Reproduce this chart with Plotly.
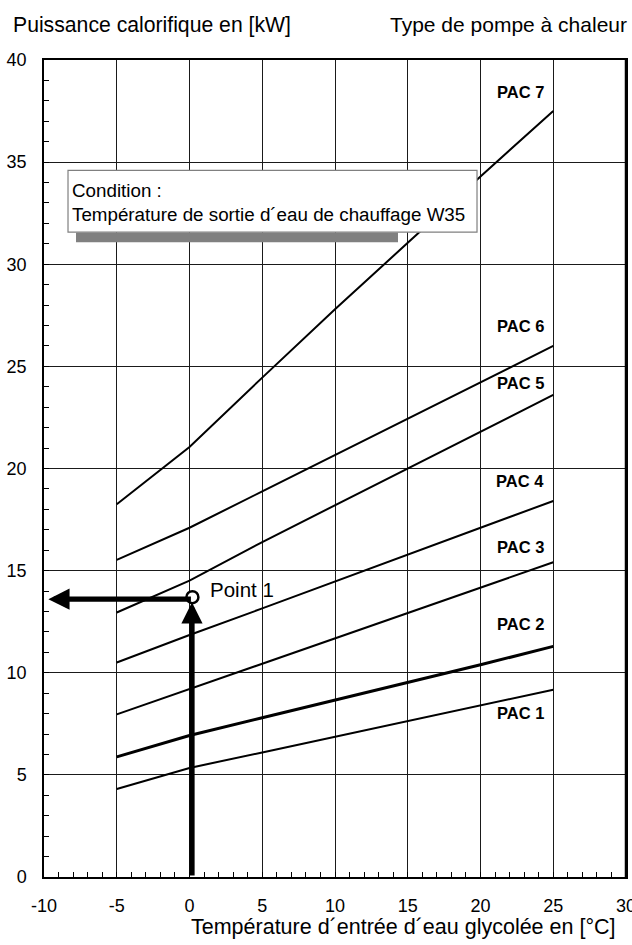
import plotly.graph_objects as go

# Glycol water inlet temperature [°C] sampling points
temperature = [-5, 0, 5, 10, 15, 20, 25]

# Heating capacity [kW] per heat pump type
pac_1 = [4.31, 5.34, 6.10, 6.86, 7.63, 8.39, 9.17]
pac_2 = [5.88, 6.93, 7.80, 8.66, 9.52, 10.39, 11.29]
pac_3 = [7.96, 9.20, 10.43, 11.67, 12.90, 14.14, 15.41]
pac_4 = [10.50, 11.85, 13.15, 14.48, 15.78, 17.10, 18.41]
pac_5 = [12.95, 14.51, 16.40, 18.20, 20.00, 21.80, 23.60]
pac_6 = [15.53, 17.10, 18.88, 20.66, 22.44, 24.22, 26.00]
pac_7 = [18.25, 21.05, 24.45, 27.80, 31.05, 34.30, 37.50]

series_names = ["PAC 1", "PAC 2", "PAC 3", "PAC 4", "PAC 5", "PAC 6", "PAC 7"]
series_values = [pac_1, pac_2, pac_3, pac_4, pac_5, pac_6, pac_7]
series_widths = [2, 3, 2, 2, 2, 2, 2]

# Label anchor heights for each curve name
label_x = 24.48
label_y = [8.03, 12.4, 16.18, 19.39, 24.18, 26.97, 38.43]

# Reading example
point1_x = 0.2
point1_y = 13.7
arrow_y = 13.6
arrow_left_x = -9.7

x_ticks = [-10, -5, 0, 5, 10, 15, 20, 25, 30]
x_tick_text = ["-10", "-5", "0", "5", "10", "15", "20", "25", "30"]
y_ticks = [0, 5, 10, 15, 20, 25, 30, 35, 40]
y_tick_text = ["0", "5", "10", "15", "20", "25", "30", "35", "40"]

FONT = "Liberation Sans, Arial, sans-serif"

fig = go.Figure()

for name, vals, w in zip(series_names, series_values, series_widths):
    fig.add_trace(go.Scatter(
        x=temperature, y=vals, mode="lines", name=name,
        line=dict(color="black", width=w), hoverinfo="skip", showlegend=False,
    ))

# Operating point marker
fig.add_trace(go.Scatter(
    x=[point1_x], y=[point1_y], mode="markers",
    marker=dict(size=12, color="white", line=dict(color="black", width=2.5)),
    showlegend=False, hoverinfo="skip",
))

annotations = []
for name, ly in zip(series_names, label_y):
    annotations.append(dict(
        x=label_x, y=ly, xref="x", yref="y", text=f"<b>{name}</b>",
        showarrow=False, xanchor="right", yanchor="middle",
        font=dict(family=FONT, size=16.5, color="black"),
    ))

# Arrows from the operating point
annotations.append(dict(
    x=arrow_left_x, y=arrow_y, ax=point1_x, ay=arrow_y, axref="x", ayref="y",
    xref="x", yref="y", text="", showarrow=True, arrowhead=2,
    arrowwidth=5.3, arrowsize=0.8, arrowcolor="black",
))
annotations.append(dict(
    x=point1_x - 0.03, y=13.45, ax=point1_x - 0.03, ay=0, axref="x", ayref="y",
    xref="x", yref="y", text="", showarrow=True, arrowhead=2,
    arrowwidth=5.3, arrowsize=0.8, arrowcolor="black",
))
annotations.append(dict(
    x=1.3, y=14.1, xref="x", yref="y", text="Point 1", showarrow=False,
    xanchor="left", yanchor="middle",
    font=dict(family=FONT, size=20.5, color="black"),
))

# Condition box text
annotations.append(dict(
    x=-8.18, y=33.04, xref="x", yref="y",
    text="Condition :<br>Température de sortie d´eau de chauffage W35",
    showarrow=False, xanchor="left", yanchor="middle", align="left",
    font=dict(family=FONT, size=18.8, color="black"),
))

# Headers and axis title
annotations.append(dict(
    x=0, y=1, xref="paper", yref="paper", text="Puissance calorifique en [kW]",
    showarrow=False, xanchor="left", yanchor="middle", xshift=-33, yshift=35.5,
    font=dict(family=FONT, size=21.2, color="black"),
))
annotations.append(dict(
    x=1, y=1, xref="paper", yref="paper", text="Type de pompe à chaleur",
    showarrow=False, xanchor="right", yanchor="middle", xshift=3, yshift=35.5,
    font=dict(family=FONT, size=21, color="black"),
))
annotations.append(dict(
    x=14.71, y=0, xref="x", yref="paper", text="Température d´entrée d´eau glycolée en [°C]",
    showarrow=False, xanchor="center", yanchor="middle", yshift=-50,
    font=dict(family=FONT, size=21.5, color="black"),
))

shapes = [
    # shadow behind the condition box
    dict(type="rect", xref="x", yref="y", x0=-7.8, x1=14.33, y0=31.08, y1=31.55,
         fillcolor="#808080", line=dict(width=0), layer="above"),
    dict(type="rect", xref="x", yref="y", x0=-8.35, x1=19.76, y0=31.57, y1=34.6,
         fillcolor="white", line=dict(color="#808080", width=1.2), layer="above"),
    # heavier right frame edge
    dict(type="line", xref="x", yref="y", x0=30, x1=30, y0=0, y1=40,
         line=dict(color="black", width=2.5), layer="above"),
]

axis_common = dict(
    showline=True, mirror=True, linecolor="black", linewidth=1.5,
    showgrid=True, gridcolor="#1a1a1a", gridwidth=1, zeroline=False,
    ticks="inside", ticklen=5, tickcolor="black",
    tickfont=dict(family=FONT, size=18, color="black"),
    minor=dict(dtick=1, ticks="inside", ticklen=5, tickcolor="black", showgrid=False),
    fixedrange=True, tickmode="array", ticklabeloverflow="allow", automargin=False,
)

fig.update_layout(
    width=632, height=945,
    margin=dict(l=44, r=6, t=60, b=68, autoexpand=False),
    paper_bgcolor="white", plot_bgcolor="white",
    xaxis=dict(range=[-10, 30], tickvals=x_ticks, ticktext=x_tick_text,
               ticklabelstandoff=12, **axis_common),
    yaxis=dict(range=[0, 40], tickvals=y_ticks, ticktext=y_tick_text,
               ticklabelstandoff=12, **axis_common),
    annotations=annotations, shapes=shapes,
    showlegend=False,
)

fig.write_html("out.html")
